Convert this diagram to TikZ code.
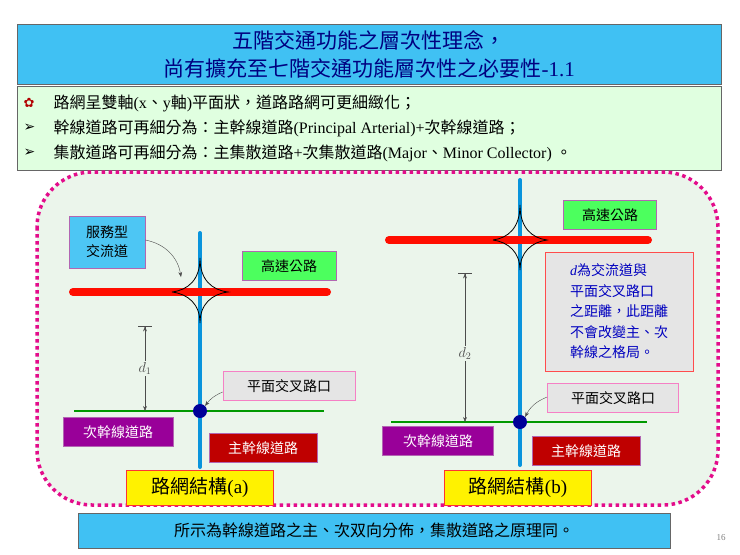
\documentclass[tikz,border=0pt]{standalone}
\usepackage{fontspec}
\setmainfont{Liberation Serif}
\newfontfamily\cjk{Noto Sans CJK TC}
\newfontfamily\dv{DejaVu Sans}
\usetikzlibrary{arrows.meta}
\begin{document}
\begin{tikzpicture}[x=1pt,y=-1pt,
  lbl/.style={draw=violet!60,line width=0.8pt,minimum height=29pt,inner sep=2pt,font=\cjk\fontsize{14}{14}\selectfont},
  capbox/.style={draw=red!80,fill=yellow,minimum width=147pt,minimum height=35pt,inner sep=2pt,font=\fontsize{19}{19}\selectfont},
  hw/.style={line width=8pt,red!90!orange,line cap=round},
  mr/.style={line width=4pt,cyan!80!blue,line cap=round},
  sr/.style={line width=1.6pt,green!60!black},
  dim/.style={{Bar[width=14pt]Stealth[length=5pt]}-{Stealth[length=5pt]},black!70,thin},
  ptr/.style={-{Stealth[length=5pt]},black!70,thin}]
\useasboundingbox (0,0) rectangle (740,555);
\fill[white] (0,0) rectangle (740,555);
% title
\node[draw=black!60,fill=cyan!75!white,minimum width=704pt,minimum height=60pt,anchor=north west,align=center,text=blue!50!black,font=\cjk\fontsize{21}{28}\selectfont] (title) at (17,24) {五階交通功能之層次性理念，\\尚有擴充至七階交通功能層次性之必要性\rmfamily -1.1};
\node[draw=black!60,fill=green!12,minimum width=704pt,minimum height=84pt,anchor=north west] (bul) at (17,86) {};
\node[anchor=west,font=\cjk\fontsize{16}{16}\selectfont] (b1) at (50,103) {路網呈雙軸\rmfamily (x\cjk 、\rmfamily y\cjk 軸\rmfamily )\cjk 平面狀，道路路網可更細緻化；};
\node[anchor=west,text=red!70!black,font=\dv\fontsize{13}{13}\selectfont] (i1) at (20,103) {✿};
\node[anchor=west,font=\dv\fontsize{14}{14}\selectfont] (i2) at (20,128) {➢};
\node[anchor=west,font=\dv\fontsize{14}{14}\selectfont] (i3) at (20,153) {➢};
\node[anchor=west,font=\cjk\fontsize{16}{16}\selectfont] (b2) at (50,128) {幹線道路可再細分為：主幹線道路\rmfamily (Principal Arterial)+\cjk 次幹線道路；};
\node[anchor=west,font=\cjk\fontsize{16}{16}\selectfont] (b3) at (50,153) {集散道路可再細分為：主集散道路\rmfamily +\cjk 次集散道路\rmfamily (Major\cjk 、\rmfamily Minor Collector) \cjk 。};
% dotted frame
\draw[magenta!90!violet,line width=3.5pt,dash pattern=on 3.5pt off 3.5pt,fill=green!4!white!96!black,rounded corners=55pt] (37,172) rectangle (718,505);
% ---- left
\draw[mr] (200,233) -- (200,467);
\draw[hw] (73,292) -- (327,292);
\draw[thick] (172,292) .. controls (188,290) and (200,280) .. (200,258) .. controls (200,280) and (212,290) .. (228,292)
  .. controls (212,294) and (200,304) .. (200,323) .. controls (200,304) and (188,294) .. (172,292);
\draw[sr] (74,411) -- (324,411);
\node[circle,fill=blue!60!black,minimum size=14pt,inner sep=0] (dotA) at (200,411) {};
\node[lbl,fill=cyan!70!white,align=center,minimum width=76pt,minimum height=52pt,font=\cjk\fontsize{14}{19}\selectfont] (svc) at (107,242) {服務型\\交流道};
\coordinate (svcT) at (181,277);
\draw[ptr] (svc.east) ++(0,-2) to[bend left=35] (svcT);
\node[lbl,fill=green!90!cyan!70,minimum width=94pt] (hwA) at (289,266) {高速公路};
\coordinate (d1t) at (145,326); \coordinate (d1b) at (145,411);
\draw[dim] (d1t) -- node[fill=green!4!white!96!black,font=\itshape\fontsize{14}{14}\selectfont,inner sep=1pt] (d1) {$d_1$} (d1b);
\node[lbl,fill=black!10,draw=magenta!50,minimum width=132pt] (isA) at (289,386) {平面交叉路口};
\draw[ptr] (isA.west) ++(0,6) to[bend right=15] (dotA.north east);
\node[lbl,fill=violet!80!magenta,text=white,minimum width=110pt] (minA) at (118,432) {次幹線道路};
\node[lbl,fill=red!75!black,text=white,minimum width=108pt] (majA) at (263,448) {主幹線道路};
\node[capbox] (capA) at (200,488) {\cjk 路網結構\rmfamily (a)};
% ---- right
\draw[mr] (520,180) -- (520,465);
\draw[hw] (389,240) -- (648,240);
\draw[thick] (493,240) .. controls (508,238) and (520,228) .. (520,205) .. controls (520,228) and (532,238) .. (547,240)
  .. controls (532,242) and (520,252) .. (520,270) .. controls (520,252) and (508,242) .. (493,240);
\draw[sr] (391,422) -- (647,422);
\node[circle,fill=blue!60!black,minimum size=14pt,inner sep=0] (dotB) at (520,422) {};
\node[lbl,fill=green!90!cyan!70,minimum width=93pt] (hwB) at (610,215) {高速公路};
\node[draw=red!70,fill=black!10,minimum width=148pt,minimum height=119pt,align=left,text=blue!75!black,font=\cjk\fontsize{14}{20.5}\selectfont,inner sep=3pt] (note) at (619,311.5) {{\rmfamily\itshape d}為交流道與\\平面交叉路口\\之距離，此距離\\不會改變主、次\\幹線之格局。};
\coordinate (d2t) at (465,273); \coordinate (d2b) at (465,422);
\draw[dim] (d2t) -- node[pos=0.54,fill=green!4!white!96!black,font=\itshape\fontsize{14}{14}\selectfont,inner sep=1pt] (d2) {$d_2$} (d2b);
\node[lbl,fill=black!10,draw=magenta!50,minimum width=131pt] (isB) at (613,398) {平面交叉路口};
\draw[ptr] (isB.west) ++(0,-1) to[bend right=20] (dotB.north east);
\node[lbl,fill=violet!80!magenta,text=white,minimum width=111pt] (minB) at (438,441) {次幹線道路};
\node[lbl,fill=red!75!black,text=white,minimum width=108pt] (majB) at (586,451) {主幹線道路};
\node[capbox] (capB) at (518,488) {\cjk 路網結構\rmfamily (b)};
% bottom
\node[draw=black!60,fill=cyan!75!white,minimum width=592pt,minimum height=35pt,anchor=north west,font=\cjk\fontsize{16}{16}\selectfont] (bot) at (78,513) {所示為幹線道路之主、次双向分佈，集散道路之原理同。};
\node[text=black!50,font=\fontsize{9}{9}\selectfont] (pg) at (721,538) {16};
\end{tikzpicture}
\end{document}
